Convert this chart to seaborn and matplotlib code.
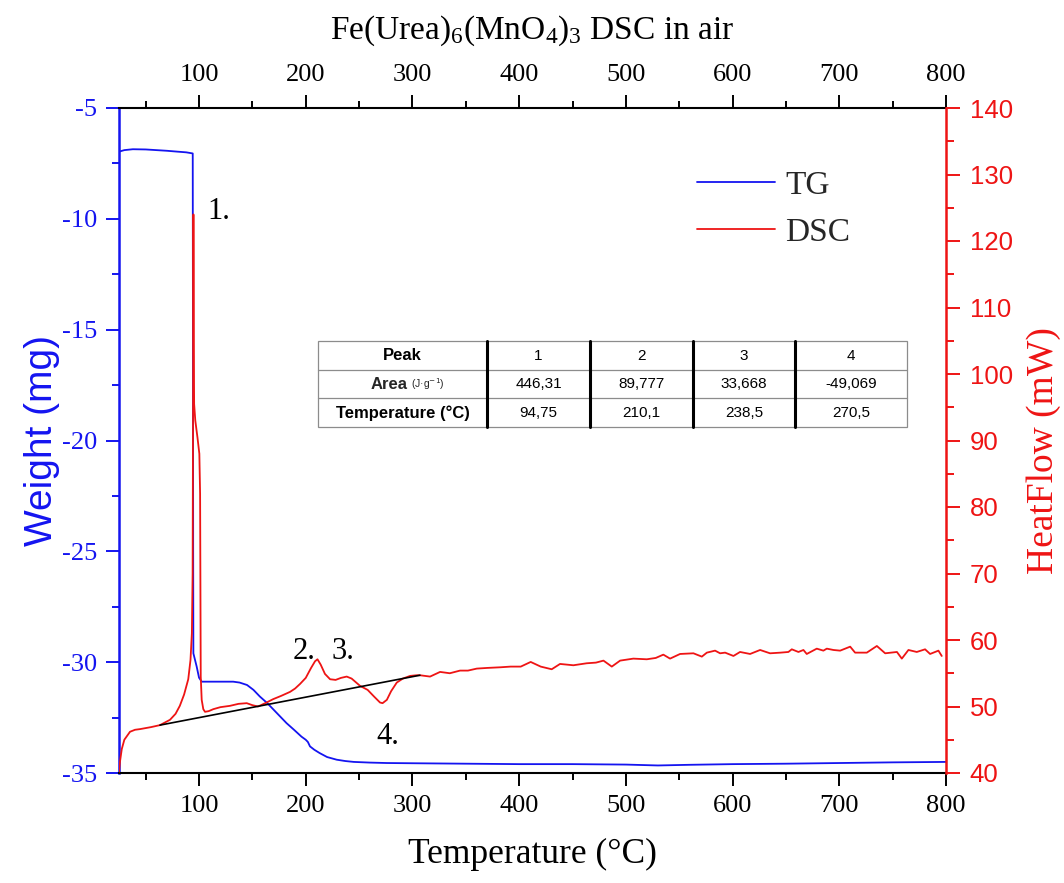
import matplotlib
matplotlib.use("Agg")
import matplotlib.pyplot as plt
import seaborn as sns
from matplotlib.ticker import MultipleLocator
from matplotlib.lines import Line2D
from matplotlib.patches import Rectangle

# ---------------- data ----------------
tg_temp = [25, 30, 38, 50, 60, 70, 80, 88, 94.1, 94.3, 94.5, 94.7, 97.8, 100, 102.5,
           110, 120, 132, 138, 145, 151, 157, 164, 170, 176, 182, 189, 196, 200, 202,
           204, 208, 213, 220, 229, 237, 245, 260, 276, 300, 350, 400, 450, 500, 530,
           560, 600, 650, 700, 750, 800]
tg_weight = [-6.97, -6.9, -6.86, -6.87, -6.9, -6.93, -6.97, -7.0, -7.05, -15.0, -25.0, -29.6, -30.2, -30.7, -30.88,
             -30.88, -30.88, -30.88, -30.92, -31.03, -31.25, -31.55, -31.85, -32.15, -32.45, -32.75, -33.05, -33.36, -33.5, -33.6,
             -33.8, -33.95, -34.1, -34.28, -34.4, -34.46, -34.5, -34.53, -34.55, -34.56, -34.58, -34.6, -34.6, -34.62, -34.66,
             -34.63, -34.6, -34.58, -34.55, -34.52, -34.5]

dsc_temp = [25, 26, 27.6, 30, 35.3, 40, 44.7, 55, 63.4, 72.8,
            78, 82, 86, 89.9, 92, 93.3, 94.0, 94.4, 94.75, 95.1,
            95.4, 96.5, 98.5, 100.3, 101.0, 101.3, 101.6, 102.5, 104, 105.6,
            109, 113.4, 120, 129, 137, 144.7, 150, 155.3, 162, 169.4,
            177, 185.3, 190, 194.7, 200, 205, 208.7, 211, 214, 218,
            222.8, 228, 233, 238.4, 243, 250.9, 258, 264, 269.6, 272,
            276, 280, 285.3, 291, 297.8, 304, 307, 316.5, 325.9, 335,
            344.6, 352, 360.3, 370, 382.7, 392, 401.5, 410.8, 420.2, 430.5,
            438.3, 450.8, 463.3, 472, 479, 486.8, 494.6, 507, 519.6, 528,
            535.1, 541.4, 550.8, 563.3, 571.2, 575.9, 583.6, 588.3, 593, 600.8,
            607, 616.4, 625.8, 635.1, 645, 652.3, 655.5, 661.7, 666.4, 669.5,
            678.9, 685.1, 688.3, 694.5, 700.8, 710.2, 714.8, 725.8, 735.2, 743,
            754, 758.6, 764.8, 772.6, 780.4, 785.1, 792.9, 796]
dsc_heat = [40.2, 41.8, 43.6, 45.0, 46.2, 46.5, 46.6, 46.9, 47.2, 48.0,
            48.9, 50.1, 51.8, 54.1, 57.0, 61.0, 70.0, 95.0, 124.0, 105.0,
            95.5, 93.0, 90.5, 88.0, 82.0, 66.0, 54.5, 51.0, 49.6, 49.2,
            49.3, 49.6, 49.9, 50.1, 50.4, 50.5, 50.2, 50.0, 50.5, 51.1,
            51.6, 52.2, 52.7, 53.4, 54.3, 55.8, 56.8, 57.1, 56.3, 54.9,
            54.1, 54.0, 54.3, 54.5, 54.2, 53.1, 52.5, 51.5, 50.6, 50.5,
            51.0, 52.3, 53.6, 54.2, 54.6, 54.7, 54.7, 54.5, 55.2, 55.0,
            55.4, 55.4, 55.7, 55.8, 55.9, 56.0, 56.0, 56.7, 56.0, 55.6,
            56.4, 56.2, 56.5, 56.6, 56.9, 56.0, 56.9, 57.2, 57.1, 57.3,
            57.8, 57.2, 57.9, 58.0, 57.5, 58.1, 58.4, 58.0, 58.1, 57.6,
            58.2, 57.9, 58.5, 58.0, 58.1, 58.2, 58.6, 58.2, 58.5, 57.9,
            58.7, 58.4, 58.7, 58.5, 58.4, 59.0, 58.1, 58.1, 59.1, 58.0,
            58.2, 57.2, 58.5, 58.2, 58.6, 57.9, 58.4, 57.6]

baseline_temp = [63.4, 307.0]
baseline_heat = [47.2, 54.7]

peak_marks = ["1.", "2.", "3.", "4."]
peak_mark_temp = [118.7, 198.7, 234.5, 277.0]
peak_mark_weight = [-9.67, -29.54, -29.54, -33.35]

table_peaks = ["1", "2", "3", "4"]
table_areas = ["446,31", "89,777", "33,668", "-49,069"]
table_temps = ["94,75", "210,1", "238,5", "270,5"]

# ---------------- style ----------------
sns.set_theme(style="ticks")
SERIF = "Liberation Serif"
SANS = "Liberation Sans"
plt.rcParams["font.family"] = [SERIF, "DejaVu Serif"]
plt.rcParams["axes.unicode_minus"] = False
plt.rcParams["mathtext.fontset"] = "custom"
plt.rcParams["mathtext.rm"] = SERIF
plt.rcParams["mathtext.it"] = SERIF + ":italic"
plt.rcParams["mathtext.bf"] = SERIF + ":bold"

BLUE = "#1414F0"
RED = "#EE1414"

fig = plt.figure(figsize=(10.64, 8.83), dpi=100)
ax = fig.add_axes([119 / 1064, 1 - 773 / 883, (946 - 119) / 1064, (773 - 108) / 883])
ax2 = ax.twinx()

sns.lineplot(x=tg_temp, y=tg_weight, ax=ax, color=BLUE, linewidth=1.3,
             sort=False, estimator=None)
sns.lineplot(x=dsc_temp, y=dsc_heat, ax=ax2, color=RED, linewidth=1.3,
             sort=False, estimator=None)
sns.lineplot(x=baseline_temp, y=baseline_heat, ax=ax2, color="black",
             linewidth=1.2, sort=False, estimator=None)

ax.set_xlim(25, 800)
ax.set_ylim(-35, -5)
ax2.set_ylim(40, 140)

ax.xaxis.set_major_locator(MultipleLocator(100))
ax.xaxis.set_minor_locator(MultipleLocator(50))
ax.yaxis.set_major_locator(MultipleLocator(5))
ax.yaxis.set_minor_locator(MultipleLocator(2.5))
ax2.yaxis.set_major_locator(MultipleLocator(10))
ax2.yaxis.set_minor_locator(MultipleLocator(5))

# spines
for s in ["top", "bottom"]:
    ax.spines[s].set_color("black")
    ax.spines[s].set_linewidth(1.5)
ax.spines["left"].set_color(BLUE)
ax.spines["left"].set_linewidth(1.8)
ax.spines["right"].set_visible(False)
for s in ["top", "bottom", "left"]:
    ax2.spines[s].set_visible(False)
ax2.spines["right"].set_color(RED)
ax2.spines["right"].set_linewidth(1.8)

ax.tick_params(axis="x", which="both", bottom=True, top=True, labelbottom=True,
               labeltop=True, direction="out", colors="black", labelsize=19, pad=6,
               width=1.4)
ax.tick_params(axis="x", which="major", length=9.5)
ax.tick_params(axis="x", which="minor", length=5)
ax.tick_params(axis="y", which="both", left=True, right=False, direction="out",
               colors=BLUE, labelsize=19, pad=6.5, width=1.4)
ax.tick_params(axis="y", which="major", length=9.5)
ax.tick_params(axis="y", which="minor", length=5)
ax2.tick_params(axis="y", which="both", right=True, direction="out", colors=RED,
                labelsize=18.5, pad=7, width=1.4, labelfontfamily=SANS)
ax2.tick_params(axis="y", which="major", length=10)
ax2.tick_params(axis="y", which="minor", length=6)
ax.grid(False)
ax2.grid(False)

# labels
ax.set_xlabel("Temperature (°C)", fontsize=25.5, color="black")
ax.xaxis.set_label_coords(0.5, -0.098)
ax.set_ylabel("Weight (mg)", fontsize=28, color=BLUE, fontfamily=SANS)
ax.yaxis.set_label_coords(-0.071, 0.5)
ax2.set_ylabel("HeatFlow (mW)", fontsize=27, color=RED)
ax2.yaxis.set_label_coords(1.097, 0.485)

fig.text(532.5 / 1064, 1 - 31 / 883, r"Fe(Urea)$_6$(MnO$_4$)$_3$ DSC in air",
         ha="center", va="center", fontsize=24, color="black")

# peak numbers
for lab, tx, wy in zip(peak_marks, peak_mark_temp, peak_mark_weight):
    ax.text(tx, wy, lab, fontsize=22, ha="center", va="center", color="black",
            zorder=10)

# legend
handles = [Line2D([], [], color=BLUE, linewidth=1.3),
           Line2D([], [], color=RED, linewidth=1.3)]
ax2.legend(handles, ["TG", "DSC"], loc="upper left",
           bbox_to_anchor=((697 - 119) / 827, 1 - (170 - 108) / 665),
           frameon=False, fontsize=24, handlelength=2.35, handletextpad=0.3,
           labelspacing=0.5, borderaxespad=0, borderpad=0)

# table
col_edges = [0.2406, 0.4450, 0.5695, 0.6941, 0.8174, 0.9528]
row_edges = [0.6489, 0.6065, 0.5632, 0.5203]
tr = ax2.transAxes
ax2.add_patch(Rectangle((col_edges[0], row_edges[-1]), col_edges[-1] - col_edges[0],
                        row_edges[0] - row_edges[-1], transform=tr, facecolor="white",
                        edgecolor="#8c8c8c", linewidth=0.9, zorder=5))
for yy in row_edges[1:-1]:
    ax2.add_line(Line2D([col_edges[0], col_edges[-1]], [yy, yy], transform=tr,
                        color="#8c8c8c", linewidth=0.9, zorder=6))
for xx in col_edges[1:-1]:
    ax2.add_line(Line2D([xx, xx], [row_edges[-1], row_edges[0]], transform=tr,
                        color="black", linewidth=2.2, zorder=6))

def cx(i):
    return (col_edges[i] + col_edges[i + 1]) / 2

def cy(j):
    return (row_edges[j] + row_edges[j + 1]) / 2

tkw = dict(transform=tr, ha="center", va="center", fontfamily=SANS, zorder=7,
           color="black")
ax2.text(cx(0), cy(0), "Peak", fontsize=12, fontweight="bold", **tkw)
ax2.text(cx(0), cy(2), "Temperature (°C)", fontsize=12, fontweight="bold", **tkw)
ax2.text((408 - 119) / 827, cy(1), "Area", fontsize=12, fontweight="bold",
         transform=tr, ha="right", va="center", fontfamily=SANS, zorder=7)
ax2.text((411 - 119) / 827, cy(1), "(J·g$^{-1}$)", fontsize=7.5, transform=tr,
         ha="left", va="center", fontfamily=SANS, zorder=7, math_fontfamily="dejavusans")
for i, (p, a, t) in enumerate(zip(table_peaks, table_areas, table_temps)):
    ax2.text(cx(i + 1), cy(0), p, fontsize=11, **tkw)
    ax2.text(cx(i + 1), cy(1), a, fontsize=11, **tkw)
    ax2.text(cx(i + 1), cy(2), t, fontsize=11, **tkw)

fig.savefig("out.png", dpi=100, facecolor="white")
